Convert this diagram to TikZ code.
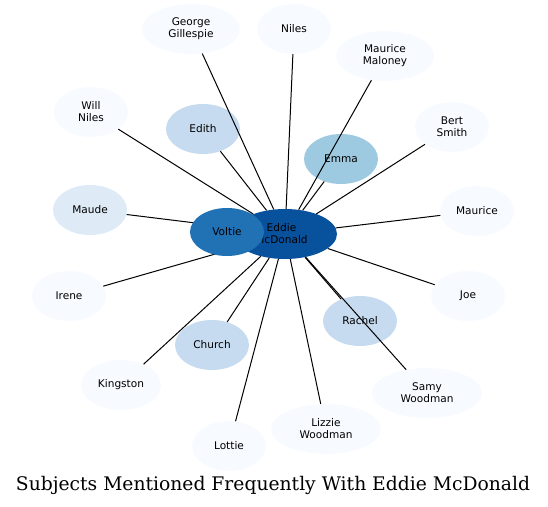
\documentclass[tikz,border=0pt]{standalone}
\usepackage{fontspec}
\setmainfont{DejaVu Serif}
\newfontfamily\subjfont{DejaVu Sans}
\usetikzlibrary{shapes.geometric}
\definecolor{bluedark}{HTML}{08519C}
\definecolor{bluemid}{HTML}{2171B5}
\definecolor{bluesky}{HTML}{9ECAE1}
\definecolor{bluepale}{HTML}{C6DBEF}
\definecolor{bluefaint}{HTML}{DEEBF7}
\definecolor{bluewhite}{HTML}{F7FBFF}
\begin{document}
\begin{tikzpicture}[x=1bp, y=-1bp,
    subject/.style={ellipse, draw=none, inner sep=0pt, fill=bluewhite,
        minimum width=74bp, minimum height=50bp, align=center,
        font=\subjfont\fontsize{10.6}{12}\selectfont},
    link/.style={black, line width=1bp}]
    \useasboundingbox (0,0) rectangle (548,507);

    % the centre
    \node[subject, fill=bluedark, minimum width=104bp] (eddie) at (285,234)
        {Eddie\hspace*{7bp}\\McDonald\hspace*{7bp}};

    % subjects round it
    \node[subject, minimum width=98bp] (george) at (191,29) {George\\Gillespie};
    \node[subject] (niles) at (294,29) {Niles};
    \node[subject, minimum width=98bp] (maloney) at (385,56) {Maurice\\Maloney};
    \node[subject] (will) at (91,112) {Will\\Niles};
    \node[subject, fill=bluepale] (edith) at (203,129) {Edith};
    \node[subject, fill=bluesky] (emma) at (341,159) {Emma};
    \node[subject] (bert) at (452,127) {Bert\\Smith};
    \node[subject, fill=bluefaint] (maude) at (90,210) {Maude};
    \node[subject] (maurice) at (477,211) {Maurice};
    \node[subject] (irene) at (69,296) {Irene};
    \node[subject] (joe) at (468,296) {Joe};
    \node[subject, fill=bluepale] (rachel) at (360,321) {Rachel};
    \node[subject, fill=bluepale] (church) at (212,345) {Church};
    \node[subject, minimum width=80bp] (kingston) at (121,385) {Kingston};
    \node[subject, minimum width=110bp] (samy) at (427,393) {Samy\\Woodman};
    \node[subject, minimum width=110bp] (lizzie) at (326,429) {Lizzie\\Woodman};
    \node[subject] (lottie) at (229,446) {Lottie};

    \foreach \s in {george,niles,maloney,edith,emma,bert,maude,maurice,
                    irene,joe,rachel,church,kingston,samy,lizzie,lottie}
        \draw[link] (eddie) -- (\s);

    \node[subject, fill=bluemid, minimum height=48bp] (voltie) at (227,232) {Voltie};
    \draw[link] (eddie) -- (will);

    \node[font=\fontsize{18.8}{22}\selectfont] (title) at (273,485)
        {Subjects Mentioned Frequently With Eddie McDonald};
\end{tikzpicture}
\end{document}
